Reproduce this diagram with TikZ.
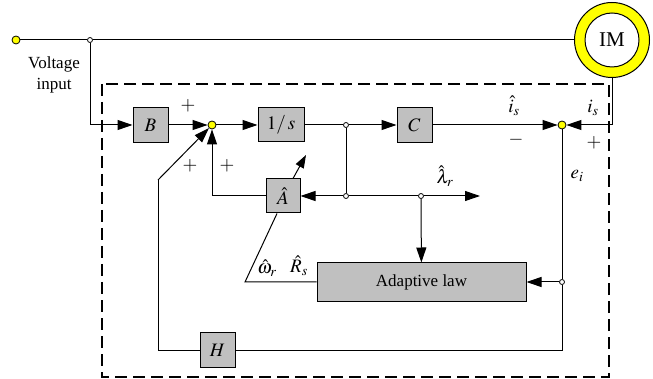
\documentclass[tikz,border=0pt]{standalone}
\usepackage{mathptmx}
\usepackage[no-math]{fontspec}
\newfontfamily\tfont{Liberation Serif}
\usetikzlibrary{arrows.meta}
\definecolor{boxgray}{RGB}{192,192,192}
\definecolor{imyellow}{RGB}{255,255,0}
\begin{document}
\begin{tikzpicture}[x=1pt,y=-1pt, line width=1pt,
 blk/.style={draw, fill=boxgray, minimum width=35pt, minimum height=35pt, inner sep=0pt, font=\fontsize{19}{20}\selectfont},
 sumdot/.style={circle, draw, fill=imyellow, minimum size=8pt, inner sep=0pt, line width=0.8pt},
 jdot/.style={circle, draw, fill=white, minimum size=5pt, inner sep=0pt, line width=0.8pt},
 arr/.style={-{Triangle[length=15pt,width=10pt]}},
 lbl/.style={font=\fontsize{19}{20}\selectfont, inner sep=0pt},
 txt/.style={font=\tfont\fontsize{17}{19}\selectfont, inner sep=0pt, align=center}]
\useasboundingbox (0,0) rectangle (653,379);
\fill[white] (0,0) rectangle (653,379);
\draw[dash pattern=on 12pt off 6pt, line width=1.2pt] (102,84) rectangle (609,377);

% nodes
\node[sumdot] (in) at (16,40) {};
\node[jdot] (j1) at (90,40) {};
\node[circle, draw, fill=imyellow, minimum size=75pt, inner sep=0pt] (IMo) at (612,40) {};
\node[circle, draw, fill=white, minimum size=54pt, inner sep=0pt, font=\tfont\fontsize{21}{22}\selectfont] (IM) at (612,40) {IM};
\node[blk] (B) at (150.5,125) {$B$};
\node[sumdot] (s1) at (212,125) {};
\node[blk, minimum width=46pt, minimum height=34pt] (I) at (281,125) {$1/\,s$};
\node[jdot] (j2) at (346,125) {};
\node[blk] (C) at (414.5,125) {$C$};
\node[sumdot] (s2) at (562,125) {};
\coordinate (c1) at (612,125);
\node[jdot] (j3) at (346,196) {};
\node[blk, minimum width=34pt, minimum height=34pt] (A) at (283,196) {$\hat{A}$};
\node[jdot] (j4) at (421,196) {};
\coordinate (lamend) at (480,196);
\node[draw, fill=boxgray, minimum width=209pt, minimum height=38pt, inner sep=0pt, font=\tfont\fontsize{17}{19}\selectfont] (AL) at (421.5,282) {Adaptive law};
\node[jdot] (j5) at (562,282) {};
\coordinate (c2) at (562,350);
\node[blk] (H) at (217.5,350) {$H$};
\coordinate (c3) at (158,350);
\coordinate (c4) at (158,180);
\coordinate (c5) at (245,282);
\coordinate (atip) at (306,155);

% connectors
\draw (in) -- (j1);
\draw (j1) -- (IMo);
\draw[arr] (j1) |- (B);
\draw[arr] (B) -- (s1);
\draw[arr] (s1) -- (I);
\draw (I) -- (j2);
\draw[arr] (j2) -- (C);
\draw[arr] (C) -- (s2);
\draw (IMo) -- (c1);
\draw[arr] (c1) -- (s2);
\draw (j2) -- (j3);
\draw[arr] (j3) -- (A);
\draw (j3) -- (j4);
\draw[arr] (j4) -- (lamend);
\draw[arr] (j4) -- (AL);
\draw[arr] (A) -| (s1);
\draw (s2) -- (j5);
\draw[arr] (j5) -- (AL);
\draw (j5) -- (c2) -- (H);
\draw (H) -- (c3) -- (c4);
\draw[arr] (c4) -- (s1);
\draw[-{Triangle[length=13pt,width=9pt]}] ([xshift=10pt]A.north) -- (atip);
\draw ([xshift=-6pt]A.south) -- (c5) -- (AL);

% labels
\node[txt] at (54,64) {Voltage};
\node[txt] at (54,86) {input};
\node[lbl] at (188,106) {$+$};
\node[lbl] at (190,166) {$+$};
\node[lbl] at (227,166) {$+$};
\node[lbl] at (514,106) {$\hat{i}_s$};
\node[lbl] at (516,140) {$-$};
\node[lbl] at (593,108) {$i_s$};
\node[lbl] at (594,143) {$+$};
\node[lbl] at (577,176) {$e_i$};
\node[lbl] at (445,176) {$\hat{\lambda}_r$};
\node[lbl] at (267,268) {$\hat{\omega}_r$};
\node[lbl] at (299,266) {$\hat{R}_s$};
\end{tikzpicture}
\end{document}
